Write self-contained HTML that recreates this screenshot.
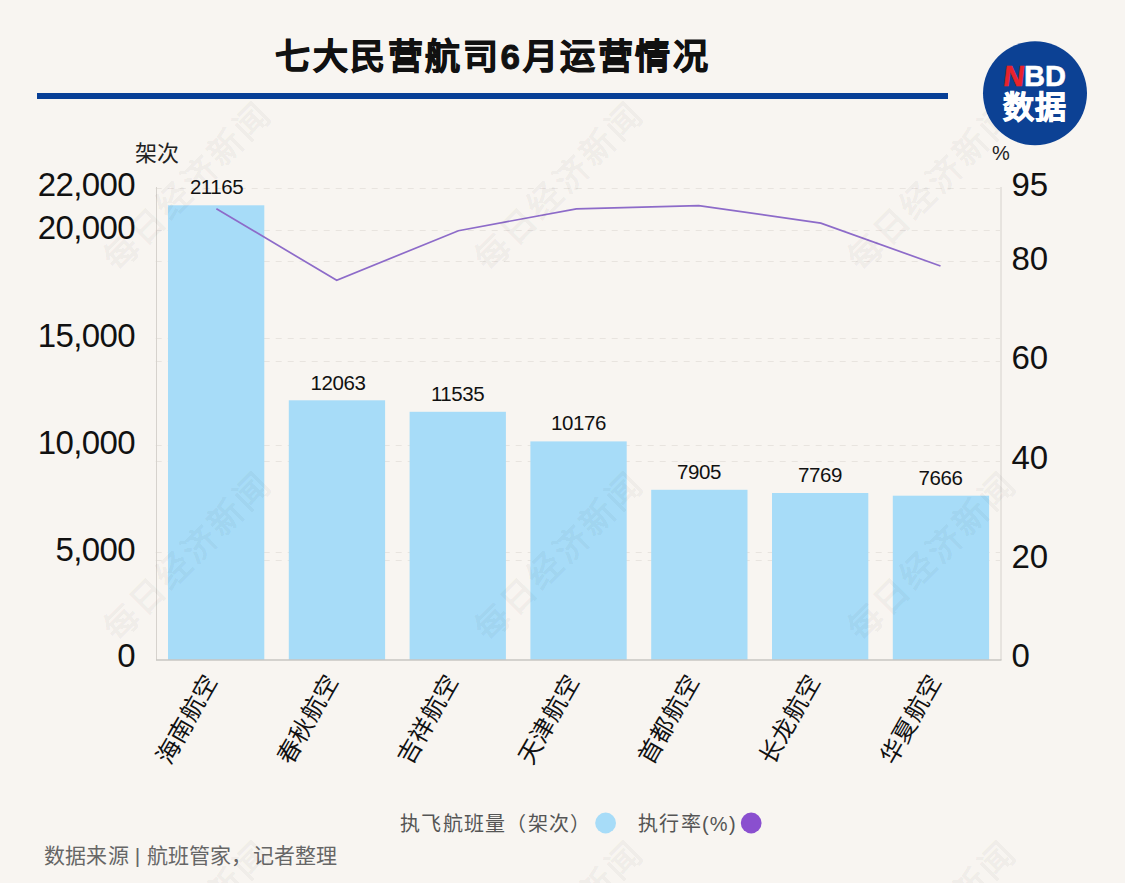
<!DOCTYPE html>
<html lang="zh-CN">
<head>
<meta charset="utf-8">
<style>
html,body{margin:0;padding:0;}
body{width:1125px;height:883px;overflow:hidden;background:#f8f5f1;position:relative;font-family:"Liberation Sans",sans-serif;}
.abs{position:absolute;white-space:nowrap;line-height:1;}
#title{left:275px;top:39px;font-size:35px;letter-spacing:2.6px;font-weight:900;color:#111;-webkit-text-stroke:0.9px #111;}
#rule{position:absolute;left:37px;top:93px;width:911px;height:6px;background:#073f96;}
svg{position:absolute;left:0;top:0;}
</style>
</head>
<body>
<svg width="1125" height="883" viewBox="0 0 1125 883">
  <!-- gridlines -->
  <g stroke="#e8e4df" stroke-width="1" stroke-dasharray="6 6">
    <line x1="155.7" x2="1000" y1="188.5" y2="188.5"/>
    <line x1="155.7" x2="1000" y1="230.5" y2="230.5"/>
    <line x1="155.7" x2="1000" y1="338.5" y2="338.5"/>
    <line x1="155.7" x2="1000" y1="445.5" y2="445.5"/>
    <line x1="155.7" x2="1000" y1="552.5" y2="552.5"/>
    <line x1="155.7" x2="1000" y1="261.5" y2="261.5"/>
    <line x1="155.7" x2="1000" y1="361.5" y2="361.5"/>
    <line x1="155.7" x2="1000" y1="461.5" y2="461.5"/>
    <line x1="155.7" x2="1000" y1="560.5" y2="560.5"/>
  </g>
  <!-- bars -->
  <g fill="#a7dcf8">
    <rect x="168.0" y="205.3" width="96.3" height="454.7"/>
    <rect x="288.8" y="400.3" width="96.3" height="259.7"/>
    <rect x="409.6" y="411.8" width="96.3" height="248.2"/>
    <rect x="530.4" y="441.4" width="96.3" height="218.6"/>
    <rect x="651.2" y="489.8" width="96.3" height="170.2"/>
    <rect x="772.0" y="493.0" width="96.3" height="167.0"/>
    <rect x="892.8" y="495.7" width="96.3" height="164.3"/>
  </g>
  <!-- axes -->
  <line x1="156.5" x2="156.5" y1="187" y2="660" stroke="#d6d2cd" stroke-width="1"/>
  <line x1="1001" x2="1001" y1="187" y2="660" stroke="#d6d2cd" stroke-width="1"/>
  <line x1="156" x2="1001.5" y1="660" y2="660" stroke="#c8c6c2" stroke-width="1.5"/>
  <!-- line -->
  <polyline points="216.4,208.7 336.7,280.3 458.4,230.7 576.4,208.8 698.7,205.6 820.8,223.1 940.5,266" fill="none" stroke="#8d6bc9" stroke-width="1.7"/>
  <!-- bar labels -->
  <g font-family="'Liberation Sans',sans-serif" font-size="20.5" fill="#111" text-anchor="middle" letter-spacing="-0.45">
    <text x="216.5" y="194">21165</text>
    <text x="338" y="390">12063</text>
    <text x="457.5" y="400.5">11535</text>
    <text x="578.5" y="430">10176</text>
    <text x="699" y="479">7905</text>
    <text x="820" y="482">7769</text>
    <text x="940.5" y="484.5">7666</text>
  </g>
  <!-- left axis labels -->
  <g font-family="'Liberation Sans',sans-serif" font-size="33" fill="#111" text-anchor="end" letter-spacing="-0.6">
    <text x="135" y="195.5">22,000</text>
    <text x="135" y="238.5">20,000</text>
    <text x="135" y="347">15,000</text>
    <text x="135" y="454">10,000</text>
    <text x="135" y="561">5,000</text>
    <text x="135" y="667">0</text>
  </g>
  <g font-family="'Liberation Sans',sans-serif" font-size="33" fill="#111" text-anchor="start">
    <text x="1011.5" y="196">95</text>
    <text x="1011.5" y="269.5">80</text>
    <text x="1011.5" y="369">60</text>
    <text x="1011.5" y="468.5">40</text>
    <text x="1011.5" y="568">20</text>
    <text x="1011.5" y="666.5">0</text>
  </g>
  <g font-family="'Liberation Sans',sans-serif" font-size="22" fill="#222">
    <text x="135" y="161">架次</text>
    <text x="992" y="160" font-size="20">%</text>
  </g>
  <!-- category labels -->
  <g font-family="'Liberation Sans',sans-serif" font-size="24" fill="#111" text-anchor="end" letter-spacing="0.5">
    <text transform="translate(218.5,681) rotate(-60)">海南航空</text>
    <text transform="translate(339.5,681) rotate(-60)">春秋航空</text>
    <text transform="translate(459.5,681) rotate(-60)">吉祥航空</text>
    <text transform="translate(580.5,681) rotate(-60)">天津航空</text>
    <text transform="translate(700.5,681) rotate(-60)">首都航空</text>
    <text transform="translate(821.5,681) rotate(-60)">长龙航空</text>
    <text transform="translate(942.5,681) rotate(-60)">华夏航空</text>
  </g>
  <!-- legend -->
  <g font-family="'Liberation Sans',sans-serif" font-size="20" fill="#555" letter-spacing="1.3">
    <text x="400" y="831">执飞航班量（架次）</text>
    <text x="638" y="831">执行率(%)</text>
  </g>
  <circle cx="605.6" cy="823" r="10.4" fill="#a7dcf8"/>
  <circle cx="751.2" cy="823" r="10.4" fill="#8a4fcf"/>
  <text x="44" y="863" font-family="'Liberation Sans',sans-serif" font-size="21" fill="#666" letter-spacing="0.2">数据来源 | 航班管家，记者整理</text>
  <!-- watermarks -->
  <g font-family="'Liberation Serif',serif" font-weight="bold" font-size="34" fill="#000" fill-opacity="0.05" text-anchor="middle" letter-spacing="3">
    <text transform="translate(196,194.5) rotate(-45)">每日经济新闻</text>
    <text transform="translate(567.5,194.5) rotate(-45)">每日经济新闻</text>
    <text transform="translate(940.5,194.5) rotate(-45)">每日经济新闻</text>
    <text transform="translate(196,564.5) rotate(-45)">每日经济新闻</text>
    <text transform="translate(567.5,564.5) rotate(-45)">每日经济新闻</text>
    <text transform="translate(940.5,564.5) rotate(-45)">每日经济新闻</text>
    <text transform="translate(196,933.5) rotate(-45)">每日经济新闻</text>
    <text transform="translate(567.5,933.5) rotate(-45)">每日经济新闻</text>
    <text transform="translate(940.5,933.5) rotate(-45)">每日经济新闻</text>
  </g>
  <!-- logo -->
  <circle cx="1035" cy="93.3" r="52" fill="#0c4194"/>
  <text transform="translate(1002.5,86) skewX(-7)" font-family="'Liberation Sans',sans-serif" font-size="29" font-weight="bold" fill="#e8232b" stroke="#e8232b" stroke-width="0.6">N</text>
  <text x="1024" y="86" font-family="'Liberation Sans',sans-serif" font-size="29" font-weight="bold" fill="#fff" stroke="#fff" stroke-width="0.6">BD</text>
  <text x="1034.5" y="118" font-family="'Liberation Sans',sans-serif" font-size="31" font-weight="900" text-anchor="middle" fill="#fff" stroke="#fff" stroke-width="0.9" letter-spacing="0.5">数据</text>
</svg>
<div id="title" class="abs">七大民营航司6月运营情况</div>
<div id="rule"></div>
</body>
</html>
